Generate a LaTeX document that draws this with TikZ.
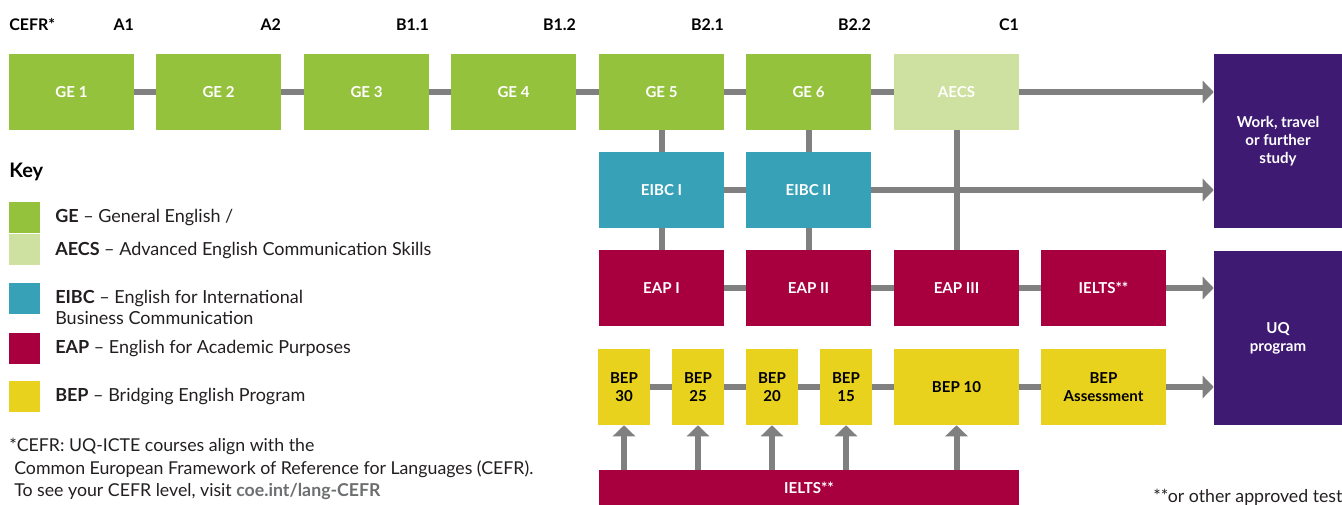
\documentclass[tikz,border=0pt]{standalone}
\usepackage{fontspec}
\setmainfont{Lato}
\usetikzlibrary{arrows.meta}

\definecolor{gegreen}{HTML}{95C23D}
\definecolor{aecsgreen}{HTML}{CFE1A0}
\definecolor{eibcteal}{HTML}{37A1B7}
\definecolor{eapred}{HTML}{A8003F}
\definecolor{bepyellow}{HTML}{E9D21E}
\definecolor{goalpurple}{HTML}{3E1A72}
\definecolor{linkgray}{HTML}{808080}
\definecolor{inkdark}{HTML}{231F20}
\definecolor{urlgray}{HTML}{6D6E70}

\tikzset{
  course/.style={minimum width=93.75pt, minimum height=57pt, inner sep=0pt,
    align=center, font=\bfseries\fontsize{11.3}{13.5}\selectfont},
  gebox/.style={course, fill=gegreen, text=white},
  aecsbox/.style={course, fill=aecsgreen, text=white},
  eibcbox/.style={course, fill=eibcteal, text=white},
  eapbox/.style={course, fill=eapred, text=white},
  bepbox/.style={course, fill=bepyellow, text=black},
  bepsmall/.style={bepbox, minimum width=39pt},
  goalbox/.style={course, fill=goalpurple, text=white, minimum width=96pt, minimum height=130.5pt},
  level/.style={anchor=base east, inner sep=0pt, text=black, font=\bfseries\fontsize{12}{15}\selectfont},
  keytext/.style={anchor=base west, inner sep=0pt, text=inkdark, font=\fontsize{13.5}{16}\selectfont},
  note/.style={anchor=base west, inner sep=0pt, text=inkdark, font=\fontsize{13.3}{15}\selectfont},
  link/.style={draw=linkgray, line width=4.5pt},
  pointer/.style={link, -{Triangle[width=16.5pt,length=8.25pt]}},
}

\begin{document}
\begin{tikzpicture}[x=0.75pt, y=-0.75pt]
  \useasboundingbox (0,0) rectangle (1342,505);

  % general english row
  \node[gebox] (ge1) at (71.5,92) {GE 1};
  \node[gebox] (ge2) at (218.5,92) {GE 2};
  \node[gebox] (ge3) at (366.5,92) {GE 3};
  \node[gebox] (ge4) at (513.5,92) {GE 4};
  \node[gebox] (ge5) at (661.5,92) {GE 5};
  \node[gebox] (ge6) at (808.5,92) {GE 6};
  \node[aecsbox] (aecs) at (956.5,92) {AECS};

  % business and academic rows
  \node[eibcbox] (eibc1) at (661.5,190) {EIBC I};
  \node[eibcbox] (eibc2) at (808.5,190) {EIBC II};
  \node[eapbox] (eap1) at (661.5,288) {EAP I};
  \node[eapbox] (eap2) at (808.5,288) {EAP II};
  \node[eapbox] (eap3) at (956.5,288) {EAP III};
  \node[eapbox] (ielts) at (1103.5,288) {IELTS**};

  % bridging row
  \node[bepsmall] (bep30) at (624,387) {BEP\\30};
  \node[bepsmall] (bep25) at (698,387) {BEP\\25};
  \node[bepsmall] (bep20) at (772,387) {BEP\\20};
  \node[bepsmall] (bep15) at (846,387) {BEP\\15};
  \node[bepbox] (bep10) at (956.5,387) {BEP 10};
  \node[bepbox] (bepassess) at (1103.5,387) {BEP\\Assessment};
  \node[eapbox, minimum width=315pt, minimum height=27pt] (ieltsbar) at (809,488) {IELTS**};

  % goals
  \node[goalbox] (work) at (1278,141) {Work, travel\\or further\\study};
  \node[goalbox] (uq) at (1278,338) {UQ\\program};

  % links
  \draw[link] (ge1) -- (ge2) (ge2) -- (ge3) (ge3) -- (ge4) (ge4) -- (ge5)
    (ge5) -- (ge6) (ge6) -- (aecs);
  \draw[link] (ge5) -- (eibc1) (eibc1) -- (eap1)
    (ge6) -- (eibc2) (eibc2) -- (eap2)
    (aecs) -- (eap3);
  \draw[link] (eibc1) -- (eibc2);
  \draw[link] (eap1) -- (eap2) (eap2) -- (eap3) (eap3) -- (ielts);
  \draw[link] (bep30) -- (bep25) (bep25) -- (bep20) (bep20) -- (bep15)
    (bep15) -- (bep10) (bep10) -- (bepassess);
  \draw[pointer] (aecs.east) -- (aecs.east -| work.west);
  \draw[pointer] (eibc2.east) -- (eibc2.east -| work.west);
  \draw[pointer] (ielts.east) -- (ielts.east -| uq.west);
  \draw[pointer] (bepassess.east) -- (bepassess.east -| uq.west);
  \foreach \b in {bep30,bep25,bep20,bep15,bep10}
    \draw[pointer] (\b |- ieltsbar.north) -- (\b.south);

  % cefr levels
  \coordinate (lvl) at (0,30.5);
  \node[level, anchor=base west] (cefr) at (9,30.5) {CEFR*};
  \node[level] (lvla1) at (ge1.east |- lvl) {A1};
  \node[level] (lvla2) at (ge2.east |- lvl) {A2};
  \node[level] (lvlb11) at (ge3.east |- lvl) {B1.1};
  \node[level] (lvlb12) at (ge4.east |- lvl) {B1.2};
  \node[level] (lvlb21) at (ge5.east |- lvl) {B2.1};
  \node[level] (lvlb22) at (ge6.east |- lvl) {B2.2};
  \node[level] (lvlc1) at (aecs.east |- lvl) {C1};

  % key
  \node[keytext, text=black, font=\bfseries\fontsize{15}{18}\selectfont] (key) at (9,177.5) {Key};
  \fill[gegreen] (9,202) rectangle (40,233);
  \fill[aecsgreen] (9,234) rectangle (40,265);
  \fill[eibcteal] (9,283) rectangle (40,314);
  \fill[eapred] (9,333) rectangle (40,364);
  \fill[bepyellow] (9,381) rectangle (40,412);
  \node[keytext] (keyge) at (55,222.5) {\textbf{GE} -- General English /};
  \node[keytext] (keyaecs) at (55,255.5) {\textbf{AECS} -- Advanced English Communication Skills};
  \node[keytext] (keyeibc) at (55,303.5) {\textbf{EIBC} -- English for International};
  \node[keytext] (keyeibcb) at (55,324.5) {Business Communication};
  \node[keytext] (keyeap) at (55,353.5) {\textbf{EAP} -- English for Academic Purposes};
  \node[keytext] (keybep) at (55,401.5) {\textbf{BEP} -- Bridging English Program};

  % footnotes
  \node[note] (fn1) at (9,452) {*CEFR: UQ-ICTE courses align with the};
  \node[note] (fn2) at (14,474.5) {Common European Framework of Reference for Languages (CEFR).};
  \node[note] (fn3) at (14,497) {To see your CEFR level, visit \textcolor{urlgray}{\bfseries coe.int/lang-CEFR}};
  \node[note] (fn4) at (1153,503) {**or other approved test};
\end{tikzpicture}
\end{document}
